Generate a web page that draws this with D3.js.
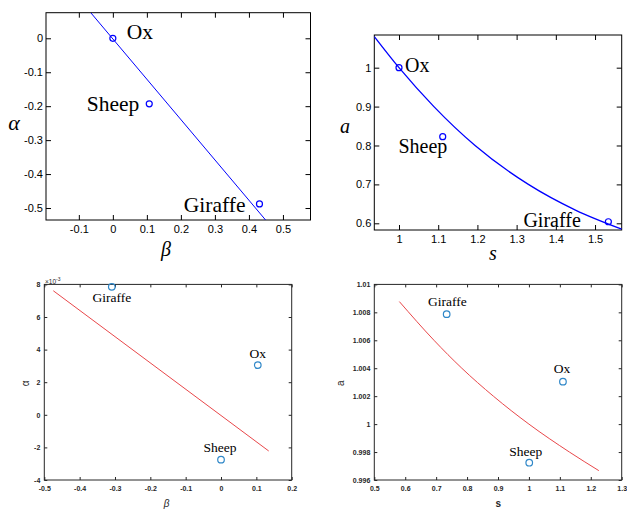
<!DOCTYPE html>
<html>
<head>
<meta charset="utf-8">
<script src="https://cdn.jsdelivr.net/npm/d3@7"></script>
<style>
  body { margin: 0; background: #fff; }
  svg { display: block; }
</style>
</head>
<body>
<svg width="627" height="509"></svg>
<script>
// ---- data ----
var animals = ["Ox", "Sheep", "Giraffe"];

// top left: beta vs alpha
var tlBeta = [0, 0.107, 0.431];
var tlAlpha = [0, -0.193, -0.488];
var tlLineBeta = [-0.065, 0.449];
var tlLineAlpha = [0.0754, -0.5353];
var tlXDomain = [-0.1965, 0.581];
var tlYDomain = [-0.5353, 0.0754];
var tlXTicks = [-0.1, 0, 0.1, 0.2, 0.3, 0.4, 0.5];
var tlYTicks = [-0.5, -0.4, -0.3, -0.2, -0.1, 0];

// top right: s vs a
var trS = [1.0, 1.1115, 1.534];
var trA = [1.0, 0.8226, 0.604];
var trCurveS = [0.937, 1.0, 1.089, 1.194, 1.33, 1.45, 1.568];
var trCurveA = [1.080, 1.0, 0.9, 0.8, 0.7, 0.634, 0.585];
var trXDomain = [0.937, 1.568];
var trYDomain = [0.5828, 1.084];
var trXTicks = [1, 1.1, 1.2, 1.3, 1.4, 1.5];
var trYTicks = [0.6, 0.7, 0.8, 0.9, 1];

// bottom left: beta vs alpha (x10^-3)
var blBeta = [0.104, 0.0, -0.309];
var blAlpha = [0.00305, -0.00275, 0.00785];
var blLineBeta = [-0.4745, 0.135];
var blLineAlpha = [0.00761, -0.00222];
var blXDomain = [-0.5, 0.2];
var blYDomain = [-0.004, 0.008];
var blXTicks = [-0.5, -0.4, -0.3, -0.2, -0.1, 0, 0.1, 0.2];
var blYTicks = [-0.004, -0.002, 0, 0.002, 0.004, 0.006, 0.008];
var blYLabels = ["-4", "-2", "0", "2", "4", "6", "8"];

// bottom right: s vs a
var brS = [1.110, 1.001, 0.734];
var brA = [1.00304, 0.99724, 1.00787];
var brCurveS = [0.581, 0.693, 0.783, 0.885, 1.0, 1.131, 1.226];
var brCurveA = [1.00877, 1.006, 1.004, 1.002, 1.0, 0.998, 0.99667];
var brXDomain = [0.5, 1.3];
var brYDomain = [0.996, 1.01];
var brXTicks = [0.5, 0.6, 0.7, 0.8, 0.9, 1, 1.1, 1.2, 1.3];
var brYTicks = [0.996, 0.998, 1, 1.002, 1.004, 1.006, 1.008, 1.01];

var svg = d3.select("svg");
var sans = "'Liberation Sans', Arial, sans-serif";
var serif = "'Liberation Serif', 'Times New Roman', serif";

// panel: box, domains, ticks, styles
function panel(o) {
  var x = d3.scaleLinear().domain(o.xDomain).range([o.left, o.right]);
  var y = d3.scaleLinear().domain(o.yDomain).range([o.bottom, o.top]);
  var g = svg.append("g");

  var fmt = function(v) { return String(+v.toFixed(4)); };

  var bx = g.append("g").attr("transform", "translate(0," + o.bottom + ")")
    .call(d3.axisBottom(x).tickValues(o.xTicks).tickFormat(fmt)
      .tickSizeInner(-o.tick).tickSizeOuter(0).tickPadding(o.padX));
  var ly = g.append("g").attr("transform", "translate(" + o.left + ",0)")
    .call(d3.axisLeft(y).tickValues(o.yTicks)
      .tickFormat(o.yLabels ? function(d, i) { return o.yLabels[i]; } : fmt)
      .tickSizeInner(-o.tick).tickSizeOuter(0).tickPadding(o.padY));
  var tx = g.append("g").attr("transform", "translate(0," + o.top + ")")
    .call(d3.axisTop(x).tickValues(o.xTicks).tickFormat("").tickSizeInner(-o.tick).tickSizeOuter(0));
  var ry = g.append("g").attr("transform", "translate(" + o.right + ",0)")
    .call(d3.axisRight(y).tickValues(o.yTicks).tickFormat("").tickSizeInner(-o.tick).tickSizeOuter(0));

  [bx, ly, tx, ry].forEach(function(a) {
    a.select(".domain").remove();
    a.selectAll("line").attr("stroke", o.axisColor).attr("stroke-width", 1);
    a.selectAll("text").attr("fill", o.axisColor)
      .style("font-family", sans).style("font-size", o.tickFont + "px")
      .style("font-weight", o.tickWeight);
  });

  g.append("rect")
    .attr("x", o.left).attr("y", o.top)
    .attr("width", o.right - o.left).attr("height", o.bottom - o.top)
    .attr("fill", "none").attr("stroke", o.axisColor).attr("stroke-width", 1);

  var clipId = "clip" + o.id;
  g.append("clipPath").attr("id", clipId).append("rect")
    .attr("x", o.left).attr("y", o.top)
    .attr("width", o.right - o.left).attr("height", o.bottom - o.top);

  var lineData = o.lineX.map(function(v, i) { return [v, o.lineY[i]]; });
  g.append("path")
    .datum(lineData)
    .attr("clip-path", "url(#" + clipId + ")")
    .attr("fill", "none")
    .attr("stroke", o.lineColor)
    .attr("stroke-width", o.lineWidth)
    .attr("d", d3.line()
      .x(function(d) { return x(d[0]); })
      .y(function(d) { return y(d[1]); })
      .curve(d3.curveMonotoneX));

  var pts = o.px.map(function(v, i) { return { x: v, y: o.py[i], name: animals[i], i: i }; });
  g.selectAll("circle.pt").data(pts).enter().append("circle")
    .attr("class", "pt")
    .attr("cx", function(d) { return x(d.x); })
    .attr("cy", function(d) { return y(d.y); })
    .attr("r", o.r)
    .attr("fill", "none")
    .attr("stroke", o.markColor)
    .attr("stroke-width", 1.2);

  g.selectAll("text.name").data(pts).enter().append("text")
    .attr("class", "name")
    .attr("x", function(d) { return x(d.x) + o.labelOff[d.i][0]; })
    .attr("y", function(d) { return y(d.y) + o.labelOff[d.i][1]; })
    .attr("text-anchor", function(d) { return o.labelOff[d.i][2]; })
    .style("font-family", serif)
    .style("font-size", o.nameFont + "px")
    .attr("fill", "#000")
    .text(function(d) { return d.name; });

  return g;
}

// top left
panel({
  id: "tl", left: 46, right: 310.5, top: 12.7, bottom: 220,
  xDomain: tlXDomain, yDomain: tlYDomain, xTicks: tlXTicks, yTicks: tlYTicks,
  tick: 5, padX: 5, padY: 3, tickFont: 11, tickWeight: "normal", axisColor: "#000",
  lineX: tlLineBeta, lineY: tlLineAlpha, lineColor: "#0000ff", lineWidth: 1,
  px: tlBeta, py: tlAlpha, r: 3, markColor: "#0000ff",
  nameFont: 21.5,
  labelOff: [[14, 1, "start"], [-10, 7, "end"], [-14, 8, "end"]]
});

// top right
panel({
  id: "tr", left: 374.3, right: 621.7, top: 35, bottom: 230,
  xDomain: trXDomain, yDomain: trYDomain, xTicks: trXTicks, yTicks: trYTicks,
  tick: 5, padX: 5, padY: 3, tickFont: 11, tickWeight: "normal", axisColor: "#000",
  lineX: trCurveS, lineY: trCurveA, lineColor: "#0000ff", lineWidth: 1.3,
  px: trS, py: trA, r: 3, markColor: "#0000ff",
  nameFont: 20,
  labelOff: [[6, 4, "start"], [4.6, 16.6, "end"], [-27.6, 5, "end"]]
});

// bottom left
panel({
  id: "bl", left: 44.3, right: 291.7, top: 284.4, bottom: 480,
  xDomain: blXDomain, yDomain: blYDomain, xTicks: blXTicks, yTicks: blYTicks, yLabels: blYLabels,
  tick: 3, padX: 6.5, padY: 4, tickFont: 7, tickWeight: "bold", axisColor: "#262626",
  lineX: blLineBeta, lineY: blLineAlpha, lineColor: "#e8474a", lineWidth: 1,
  px: blBeta, py: blAlpha, r: 3.3, markColor: "#2f87c8",
  nameFont: 13.5,
  labelOff: [[0, -6.7, "middle"], [-1, -8, "middle"], [0, 15, "middle"]]
});

// bottom right
panel({
  id: "br", left: 374.3, right: 621.7, top: 284.4, bottom: 480,
  xDomain: brXDomain, yDomain: brYDomain, xTicks: brXTicks, yTicks: brYTicks,
  tick: 3, padX: 6.5, padY: 4, tickFont: 7, tickWeight: "bold", axisColor: "#262626",
  lineX: brCurveS, lineY: brCurveA, lineColor: "#e8474a", lineWidth: 1,
  px: brS, py: brA, r: 3.3, markColor: "#2f87c8",
  nameFont: 13.5,
  labelOff: [[-1, -8.4, "middle"], [-3.5, -6.7, "middle"], [0.8, -8.3, "middle"]]
});

// axis titles, top row
svg.append("text").attr("x", 14).attr("y", 130).attr("text-anchor", "middle")
  .style("font-family", serif).style("font-style", "italic").style("font-size", "22px").text("α");
svg.append("text").attr("x", 166).attr("y", 256).attr("text-anchor", "middle")
  .style("font-family", serif).style("font-style", "italic").style("font-size", "20px").text("β");
svg.append("text").attr("x", 345).attr("y", 132.7).attr("text-anchor", "middle")
  .style("font-family", serif).style("font-style", "italic").style("font-size", "20px").text("a");
svg.append("text").attr("x", 493).attr("y", 260).attr("text-anchor", "middle")
  .style("font-family", serif).style("font-style", "italic").style("font-size", "20px").text("s");

// axis titles, bottom row
svg.append("text").attr("transform", "translate(28.5,383.3) rotate(-90)").attr("text-anchor", "middle")
  .style("font-family", sans).style("font-size", "10px").attr("fill", "#262626").text("α");
svg.append("text").attr("transform", "translate(343.5,383.3) rotate(-90)").attr("text-anchor", "middle")
  .style("font-family", sans).style("font-size", "10px").attr("fill", "#262626").text("a");
svg.append("text").attr("x", 166.5).attr("y", 507).attr("text-anchor", "middle")
  .style("font-family", sans).style("font-style", "italic").style("font-size", "10px").attr("fill", "#262626").text("β");
svg.append("text").attr("x", 498.3).attr("y", 507.3).attr("text-anchor", "middle")
  .style("font-family", sans).style("font-weight", "bold").style("font-size", "10px").attr("fill", "#262626").text("s");

// exponent label
var ex = svg.append("text").attr("x", 45).attr("y", 283.5)
  .style("font-family", sans).style("font-size", "6.5px").attr("fill", "#262626");
ex.append("tspan").text("×10");
ex.append("tspan").attr("dy", -2.5).style("font-size", "5px").text("-3");
</script>
</body>
</html>
